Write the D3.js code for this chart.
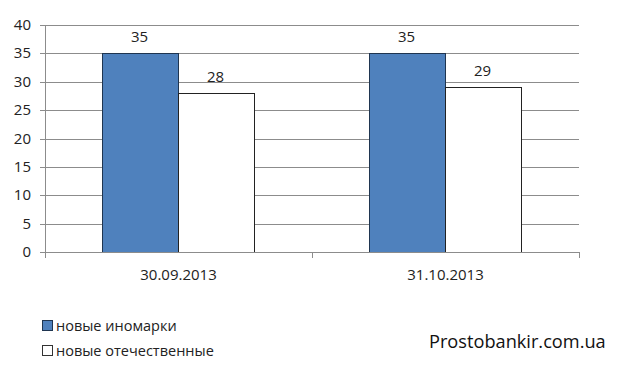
<!DOCTYPE html>
<html><head><meta charset="utf-8">
<script src="https://cdn.jsdelivr.net/npm/d3@7"></script>
<style>body{margin:0;background:#fff}svg{display:block}</style>
</head><body><svg id="c" width="640" height="375"></svg>
<script>
const categories = ["30.09.2013", "31.10.2013"];
const seriesNames = ["новые иномарки", "новые отечественные"];
const importValues = [35, 35];
const domesticValues = [28, 29];
const yTicks = [0, 5, 10, 15, 20, 25, 30, 35, 40];
</script>
<script>
const values = [importValues, domesticValues];
const colors = ["#4F81BD", "#FFFFFF"];
const strokes = ["#1F3550", "#222"];
const font = "'Open Sans', sans-serif";
const svg = d3.select("#c");
const L = 45, R = 579, T = 25, B = 252;
const y = d3.scaleLinear().domain([0, 40]).range([B, T]);
const x0 = d3.scaleBand().domain(categories).range([L, R]).padding(0);
const x1 = d3.scaleBand().domain(seriesNames).range([0, x0.bandwidth()]).paddingInner(0).paddingOuter(0.757);

svg.append("g").selectAll("line").data(yTicks).join("line")
  .attr("x1", L - 5).attr("x2", R).attr("y1", d => Math.round(y(d)) + 0.5).attr("y2", d => Math.round(y(d)) + 0.5)
  .attr("stroke", "#8c8c8c").attr("stroke-width", 1);
svg.append("line").attr("x1", L + 0.5).attr("x2", L + 0.5).attr("y1", T).attr("y2", B + 0.5).attr("stroke", "#8c8c8c");
svg.append("g").selectAll("text").data(yTicks).join("text")
  .attr("x", 31).attr("y", d => y(d) + 5).attr("text-anchor", "end")
  .attr("font-family", font).attr("font-size", 15).attr("fill", "#222").text(d => d);

categories.forEach((c, ci) => {
  seriesNames.forEach((s, si) => {
    const v = values[si][ci];
    const bx = x0(c) + x1(s);
    svg.append("rect").attr("x", Math.round(bx) - 0.5).attr("y", Math.round(y(v)) + 0.5)
      .attr("width", Math.round(x1.bandwidth())).attr("height", Math.round(B - y(v)))
      .attr("fill", colors[si]).attr("stroke", strokes[si]).attr("stroke-width", 1);
    svg.append("text").attr("x", bx + x1.bandwidth() / 2 - 1).attr("y", y(v) - 11)
      .attr("text-anchor", "middle").attr("font-family", font).attr("font-size", 15).attr("fill", "#222").text(v);
  });
});

svg.append("line").attr("x1", L).attr("x2", R).attr("y1", B + 0.5).attr("y2", B + 0.5).attr("stroke", "#8c8c8c");
const sep = [L, ...categories.map(c => x0(c) + x0.bandwidth())];
svg.append("g").selectAll("line").data(sep).join("line")
  .attr("x1", d => Math.round(d) + 0.5).attr("x2", d => Math.round(d) + 0.5).attr("y1", B).attr("y2", B + 6)
  .attr("stroke", "#8c8c8c");
svg.append("g").selectAll("text").data(categories).join("text")
  .attr("x", d => x0(d) + x0.bandwidth() / 2).attr("y", 280).attr("text-anchor", "middle")
  .attr("font-family", font).attr("font-size", 15).attr("fill", "#222").text(d => d);

const lg = svg.append("g").selectAll("g").data(seriesNames).join("g")
  .attr("transform", (d, i) => `translate(42,${320 + i * 25})`);
lg.append("rect").attr("x", 0.5).attr("y", 0.5).attr("width", 10).attr("height", 10)
  .attr("fill", (d, i) => colors[i]).attr("stroke", (d, i) => i ? "#333" : "#1F3550");
lg.append("text").attr("x", 14).attr("y", 10.5).attr("font-family", font).attr("font-size", 14.5).attr("fill", "#222").text(d => d);

svg.append("text").attr("x", 429).attr("y", 348).attr("font-family", font).attr("font-size", 18.2).attr("fill", "#111").text("Prostobankir.com.ua");
</script>
</body></html>
